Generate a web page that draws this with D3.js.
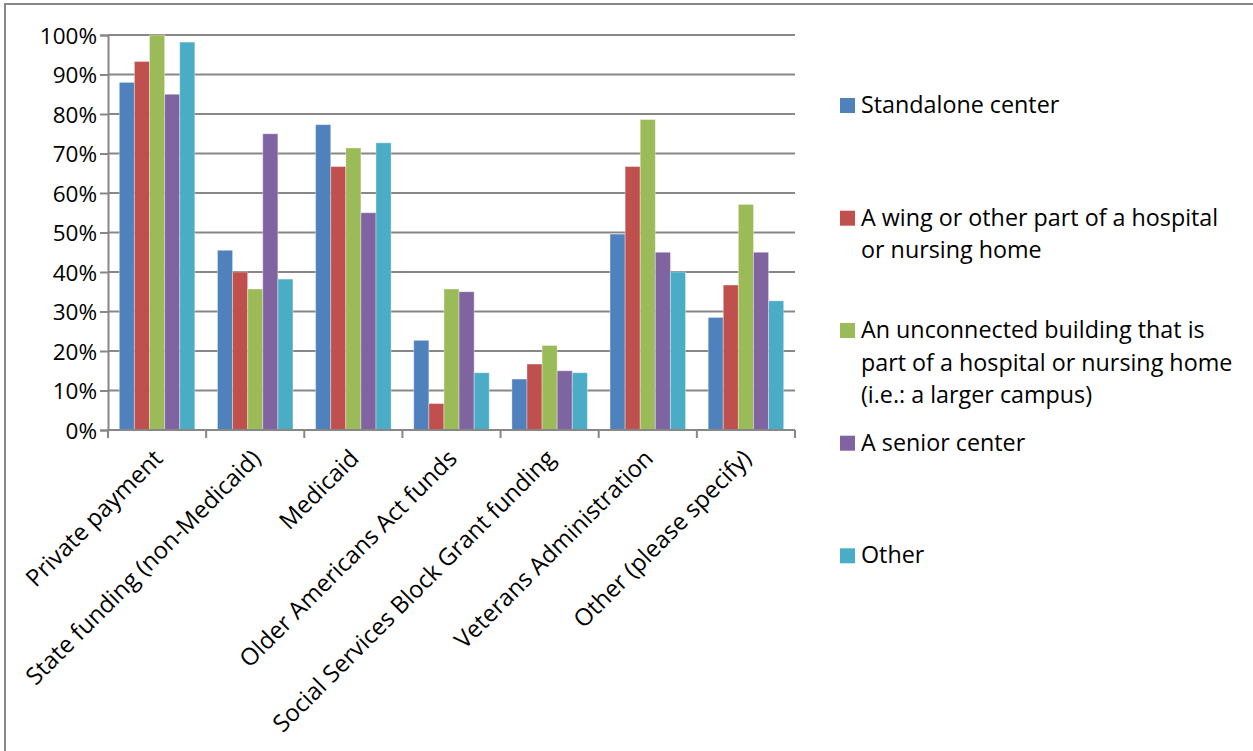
<!DOCTYPE html>
<html><head><meta charset="utf-8">
<script src="https://cdn.jsdelivr.net/npm/d3@7"></script>
<style>
html,body{margin:0;padding:0;background:#fff;}
svg text{font-family:"Open Sans",sans-serif;fill:#000;}
</style></head>
<body>
<svg id="chart" width="1253" height="751"></svg>
<script>
const categories = ["Private payment","State funding (non-Medicaid)","Medicaid","Older Americans Act funds","Social Services Block Grant funding","Veterans Administration","Other (please specify)"];
const seriesNames = ["Standalone center","A wing or other part of a hospital or nursing home","An unconnected building that is part of a hospital or nursing home (i.e.: a larger campus)","A senior center","Other"];
const standalone = [88.0, 45.5, 77.3, 22.7, 12.9, 49.6, 28.5];
const wing = [93.3, 40.0, 66.7, 6.7, 16.7, 66.7, 36.7];
const unconnected = [100, 35.7, 71.4, 35.7, 21.4, 78.6, 57.1];
const senior = [85.0, 75.0, 55.0, 35.0, 15.0, 45.0, 45.0];
const other = [98.2, 38.2, 72.7, 14.5, 14.5, 40.0, 32.7];
const yTicks = [0,10,20,30,40,50,60,70,80,90,100];
const legendLines = [["Standalone center"],["A wing or other part of a hospital","or nursing home"],["An unconnected building that is","part of a hospital or nursing home","(i.e.: a larger campus)"],["A senior center"],["Other"]];
const colors = ["#4F81BD","#C0504D","#9BBB59","#8064A2","#4BACC6"];

const seriesValues = [standalone, wing, unconnected, senior, other];
const svg = d3.select("#chart");
const grid = "#878787";
const L = 108, R = 795, T = 35, B = 430;

// outer chart border
svg.append("rect").attr("x",5).attr("y",4).attr("width",1400).attr("height",900)
  .attr("fill","none").attr("stroke",grid).attr("stroke-width",2);

const x0 = d3.scaleBand().domain(categories).range([L,R]).padding(0);
const step = x0.step();
const w = step/6.5;
const x1 = d3.scaleBand().domain(d3.range(seriesNames.length)).range([0.75*w, step-0.75*w]).padding(0);
const y = d3.scaleLinear().domain([0,100]).range([B,T]);

// gridlines
svg.append("g").selectAll("line").data(yTicks.filter(d=>d>0)).join("line")
  .attr("x1",L).attr("x2",R).attr("y1",d=>y(d)).attr("y2",d=>y(d))
  .attr("stroke",grid).attr("stroke-width",2);

// y axis
const yAxis = d3.axisLeft(y).tickValues(yTicks).tickFormat(d=>d+"%").tickSize(8).tickPadding(4);
const yg = svg.append("g").attr("transform",`translate(${L},0)`).call(yAxis);
yg.select(".domain").attr("stroke",grid).attr("stroke-width",2);
yg.selectAll(".tick line").attr("stroke",grid).attr("stroke-width",2);
yg.selectAll(".tick text").attr("font-size","22.5px").attr("font-family","Open Sans").attr("fill","#000").attr("dy","0.36em").attr("x",-11);

// bars
const groups = svg.append("g").selectAll("g").data(categories).join("g")
  .attr("transform",d=>`translate(${x0(d)},0)`);
groups.selectAll("rect").data((c,i)=>seriesValues.map((s,j)=>({j, v:s[i]}))).join("rect")
  .attr("x",d=>x1(d.j)).attr("width",x1.bandwidth())
  .attr("y",d=>y(d.v)).attr("height",d=>B-y(d.v))
  .attr("fill",d=>colors[d.j]).attr("stroke","rgba(255,255,255,0.35)").attr("stroke-width",1);

// x axis
const xAxis = d3.axisBottom(x0).tickSize(0).tickFormat("");
const xg = svg.append("g").attr("transform",`translate(0,${B})`).call(xAxis);
xg.select(".domain").remove();
xg.append("line").attr("x1",L).attr("x2",R).attr("stroke",grid).attr("stroke-width",2);
const edges = categories.map(c=>x0(c)).concat([R]);
xg.selectAll("line.edge").data(edges).join("line").attr("class","edge")
  .attr("x1",d=>d).attr("x2",d=>d).attr("y1",0).attr("y2",8).attr("stroke",grid).attr("stroke-width",2);

svg.append("g").selectAll("text").data(categories).join("text")
  .attr("transform",d=>`translate(${x0(d)+step/2+1},${B+24}) rotate(-45)`)
  .attr("text-anchor","end").attr("dy","0.35em")
  .attr("font-size","23.8px").text(d=>d);

// legend
const legendTop = [113, 225.7, 338, 450.7, 563.3];
const lg = svg.append("g");
legendLines.forEach((lines,i)=>{
  lg.append("rect").attr("x",840).attr("y",legendTop[i]-15).attr("width",15).attr("height",15).attr("fill",colors[i]);
  lines.forEach((t,k)=>{
    lg.append("text").attr("x",861).attr("y",legendTop[i]+k*32.6).attr("font-size","23.3px").text(t);
  });
});
</script>
</body></html>
